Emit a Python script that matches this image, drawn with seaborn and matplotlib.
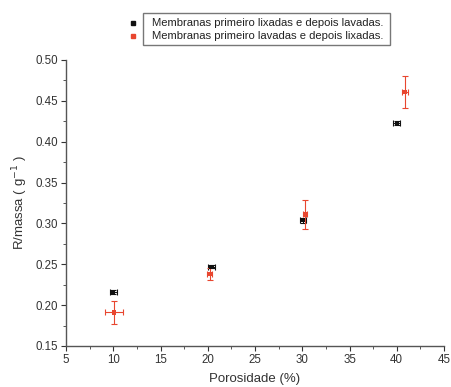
import matplotlib
matplotlib.use("Agg")
import matplotlib.pyplot as plt
from matplotlib.ticker import MultipleLocator, FormatStrFormatter
from matplotlib.patches import Rectangle
import seaborn as sns
import pandas as pd

series_names = ["Membranas primeiro lixadas e depois lavadas.",
                "Membranas primeiro lavadas e depois lixadas."]

# Série 1: primeiro lixadas, depois lavadas
por_a = [10.0, 20.4, 30.1, 40.0]
r_a = [0.216, 0.247, 0.304, 0.423]
xerr_a = [0.35, 0.35, 0.3, 0.35]
yerr_a = [0.002, 0.002, 0.003, 0.002]

# Série 2: primeiro lavadas, depois lixadas
por_b = [10.1, 20.2, 30.3, 40.9]
r_b = [0.191, 0.238, 0.311, 0.461]
xerr_b = [0.95, 0.3, 0.2, 0.3]
yerr_b = [0.014, 0.007, 0.018, 0.020]

colors = ["#111111", "#e8462f"]

sns.set_theme(style="ticks")
plt.rcParams["font.family"] = ["Liberation Sans", "DejaVu Sans"]

df = pd.DataFrame({
    "Porosidade": por_a + por_b,
    "R": r_a + r_b,
    "Série": [series_names[0]] * len(por_a) + [series_names[1]] * len(por_b),
})

W, H = 452, 387
fig = plt.figure(figsize=(W / 100, H / 100), dpi=100)
ax = fig.add_axes([66 / W, 1 - 346 / H, (444 - 66) / W, (346 - 60) / H])

for xs, ys, xe, ye, c in [(por_a, r_a, xerr_a, yerr_a, colors[0]),
                          (por_b, r_b, xerr_b, yerr_b, colors[1])]:
    ax.errorbar(xs, ys, xerr=xe, yerr=ye, fmt="none", ecolor=c,
                elinewidth=0.8, capsize=2, capthick=0.8, zorder=2)

sns.scatterplot(data=df, x="Porosidade", y="R", hue="Série", palette=colors,
                marker="s", s=9, linewidth=0, ax=ax, zorder=3, legend=False)

ax.set_xlim(5, 45)
ax.set_ylim(0.15, 0.50)
ax.xaxis.set_major_locator(MultipleLocator(5))
ax.xaxis.set_minor_locator(MultipleLocator(2.5))
ax.yaxis.set_major_locator(MultipleLocator(0.05))
ax.yaxis.set_minor_locator(MultipleLocator(0.025))
ax.yaxis.set_major_formatter(FormatStrFormatter("%.2f"))

for s in ["top", "right"]:
    ax.spines[s].set_visible(False)
for s in ["left", "bottom"]:
    ax.spines[s].set_color("#555555")
    ax.spines[s].set_linewidth(1.0)

ax.tick_params(which="major", direction="out", length=3.5, width=0.8,
               labelsize=8.3, colors="#333333", pad=2)
ax.tick_params(which="minor", direction="out", length=2, width=0.7, colors="#555555")

ax.set_xlabel("Porosidade (%)", fontsize=9.5, color="#333333", labelpad=5.5)
ax.set_ylabel("R/massa ( g$^{-1}$ )", fontsize=9.5, color="#333333", labelpad=4)

# Legend: framed text block with the symbols sitting just left of the frame
fig.add_artist(Rectangle((143 / W, 1 - 45 / H), (390 - 143) / W, (45 - 13) / H,
                         transform=fig.transFigure, fill=False,
                         edgecolor="#777777", linewidth=1.0))
for i, (name, c) in enumerate(zip(series_names, colors)):
    yy = 1 - (22.5 + 13.5 * i) / H
    fig.add_artist(plt.Line2D([133 / W], [yy], marker="s", linestyle="none",
                              color=c, markersize=2.5, transform=fig.transFigure))
    fig.text(152 / W, yy, name, fontsize=8.1, color="#222222",
             ha="left", va="center")

fig.savefig("out.png", dpi=100)
